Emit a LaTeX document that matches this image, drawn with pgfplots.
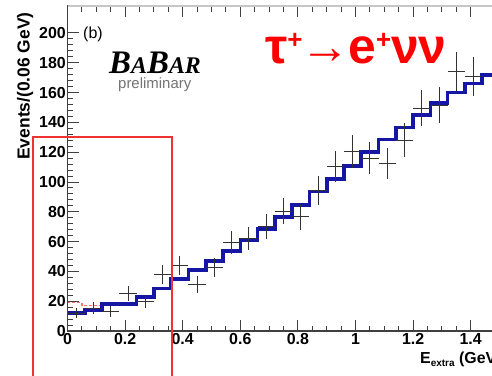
\documentclass[border=0pt]{standalone}
\usepackage{fontspec}
\setmainfont{Liberation Sans}
\newfontfamily\logofont{Liberation Serif}
\usepackage{pgfplots}
\usepackage{pgfplotstable}
\pgfplotsset{compat=1.18}
\definecolor{histblue}{RGB}{22,22,165}
\definecolor{boxred}{RGB}{240,50,50}
\pgfplotstableread{
x y ex ey
0.03 12 0.03 3.5
0.09 15.4 0.03 3.9
0.15 13 0.03 3.6
0.21 25.3 0.03 5.0
0.27 19.7 0.03 4.4
0.33 38 0.03 6.2
0.39 44 0.03 6.6
0.45 31 0.03 5.6
0.51 42.7 0.03 6.5
0.57 59.4 0.03 7.7
0.63 62 0.03 7.9
0.69 70 0.03 8.4
0.75 80.5 0.03 9.0
0.81 76.7 0.03 8.8
0.87 94.6 0.03 9.7
0.93 110.3 0.03 10.5
0.99 120.3 0.03 11.0
1.05 116 0.03 10.8
1.11 112.5 0.03 10.6
1.17 128 0.03 11.3
1.23 149.5 0.03 12.2
1.29 151.7 0.03 12.3
1.35 174 0.03 13.2
1.41 171 0.03 13.1
}\datatable
\pgfplotstableread{
x y
0.00 12
0.06 14
0.12 18
0.18 18
0.24 23
0.30 28.6
0.36 35
0.42 41
0.48 47
0.54 53.5
0.60 61
0.66 68.5
0.72 76.5
0.78 84.5
0.84 93.5
0.90 102
0.96 110.7
1.02 120
1.08 128.5
1.14 136.7
1.20 145
1.26 153
1.32 160
1.38 166
1.44 172
1.50 172
}\mctable
\begin{document}
\begin{tikzpicture}[x=1bp,y=1bp]
\useasboundingbox (0,0) rectangle (492,375);
\clip (0,0) rectangle (492,375);
\fill[white] (0,0) rectangle (492,375);
\begin{axis}[
  anchor=south west, at={(67.5bp,44bp)},
  x=288bp, y=1.49bp,
  xmin=0, xmax=1.56, ymin=0, ymax=218,
  scale only axis,
  clip=false,
  axis line style={draw=black!75, line width=1.4bp},
  xtick={0,0.2,...,1.41}, minor x tick num=3,
  ytick={0,20,...,200}, minor y tick num=4,
  xticklabels={0,0.2,0.4,0.6,0.8,1,1.2,1.4},
  tick align=inside,
  major tick length=11bp, minor tick length=5.5bp,
  tick style={draw=black!75, line width=1bp},
  /pgf/number format/assume math mode=true,
  ticklabel style={font=\fontsize{16}{16}\selectfont\bfseries},
  yticklabel style={inner sep=1.5bp},
  xticklabel style={inner sep=2bp},
]
\draw[gray!45, line width=2bp] (axis cs:0,218) -- (axis cs:1.56,218);
\addplot[const plot, draw=red!55, densely dashed, line width=1.2bp] coordinates {(0,19) (0.05,19) (0.05,17) (0.12,17)};
\addplot[const plot, draw=histblue, line width=3.6bp] table[x=x,y=y] {\mctable};
\addplot[draw=none, mark=none, error bars/.cd, x dir=both, x explicit, y dir=both, y explicit,
  error mark=none, error bar style={draw=black!80, solid, line width=0.9bp}]
  table[x=x, y=y, x error=ex, y error=ey] {\datatable};
\draw[boxred, line width=1.3bp] (axis cs:-0.12,-40) -- (axis cs:-0.12,130.2) -- (axis cs:0.363,130.2) -- (axis cs:0.363,-40);
\end{axis}
\node[rotate=90, font=\fontsize{17.5}{17.5}\selectfont\bfseries] at (25,289) {Events/(0.06 GeV)};
\node[anchor=base west, font=\fontsize{16}{16}\selectfont, inner sep=0] at (83,337) {(b)};
\node[anchor=base west, inner sep=0] at (109,302) {\logofont\bfseries\itshape\fontsize{33}{33}\selectfont B\fontsize{24}{24}\selectfont A\fontsize{33}{33}\selectfont B\fontsize{24}{24}\selectfont AR};
\node[anchor=base west, inner sep=0, text=black!55, font=\fontsize{15}{15}\selectfont] at (118,287) {preliminary};
\node[anchor=base west, inner sep=0, text=red, font=\fontsize{50}{50}\selectfont\bfseries] at (265,312) {τ\raisebox{0.3em}{\fontsize{26}{26}\selectfont +}\hspace{-2bp}→\hspace{-2bp}e\raisebox{0.3em}{\fontsize{26}{26}\selectfont +}νν};
\node[anchor=base west, inner sep=0, font=\fontsize{16}{16}\selectfont\bfseries] at (420,12) {E\raisebox{-3bp}{\fontsize{10}{10}\selectfont extra} (GeV)};
\end{tikzpicture}
\end{document}
